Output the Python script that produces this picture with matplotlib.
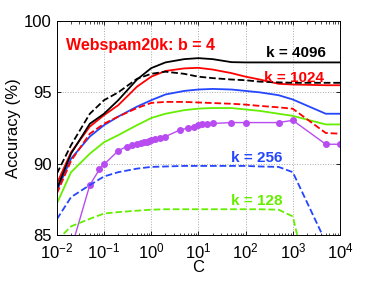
import matplotlib
matplotlib.use("Agg")
import matplotlib.pyplot as plt
from matplotlib.ticker import LogLocator, FixedLocator

plt.rcParams["font.family"] = ["Liberation Sans", "DejaVu Sans"]
plt.rcParams["mathtext.fontset"] = "custom"
plt.rcParams["mathtext.rm"] = "Liberation Sans"
plt.rcParams["mathtext.it"] = "Liberation Sans:italic"

# C grid shared by the smooth curves
C = [0.01, 0.02, 0.05, 0.1, 0.2, 0.5, 1, 2, 5, 10, 20, 50, 100, 200, 500, 1000, 5000, 10000]

k4096_solid = [88.24, 90.7, 92.8, 93.5, 94.45, 95.9, 96.7, 97.1, 97.33, 97.4, 97.33, 97.12, 97.1, 97.1, 97.1, 97.1, 97.1, 97.1]
k4096_dash = [89.3, 91.3, 93.5, 94.45, 95.0, 95.95, 96.3, 96.45, 96.3, 96.1, 96.0, 95.9, 95.85, 95.75, 95.7, 95.67, 95.67, 95.67]
k1024_solid = [88.6, 90.8, 92.6, 93.4, 94.1, 95.4, 96.1, 96.5, 96.68, 96.72, 96.6, 96.35, 96.1, 95.9, 95.6, 95.55, 95.5, 95.5]
k1024_dash = [87.9, 90.2, 92.1, 92.8, 93.3, 93.9, 94.26, 94.33, 94.33, 94.29, 94.25, 94.2, 94.14, 94.05, 93.95, 93.85, 92.15, 92.1]
k256_solid = [88.1, 90.35, 91.9, 92.7, 93.3, 94.0, 94.45, 94.85, 95.1, 95.2, 95.24, 95.2, 95.1, 95.0, 94.8, 94.5, 93.5, 93.5]
k256_dash = [86.1, 87.65, 88.5, 89.1, 89.4, 89.65, 89.77, 89.8, 89.84, 89.84, 89.84, 89.84, 89.84, 89.8, 89.77, 89.4, 84.5, 82.0]
k128_solid = [87.2, 89.4, 90.7, 91.5, 92.0, 92.7, 93.2, 93.5, 93.75, 93.86, 93.9, 93.9, 93.8, 93.7, 93.5, 93.35, 92.75, 92.75]
k128_dash = [84.6, 85.6, 86.13, 86.5, 86.6, 86.7, 86.77, 86.8, 86.8, 86.8, 86.8, 86.8, 86.8, 86.8, 86.77, 86.3, 76.5, 74.0]

# original data (purple, with markers)
C_orig = [0.01, 0.02, 0.05, 0.08, 0.1, 0.2, 0.3, 0.4, 0.5, 0.6, 0.7, 0.8, 0.9, 1, 1.2, 1.5, 2,
          4, 6, 8, 10, 12, 15, 20, 50, 100, 500, 1000, 5000, 10000]
acc_orig = [80.0, 84.0, 88.5, 89.6, 89.95, 90.9, 91.2, 91.3, 91.4, 91.45, 91.5, 91.55, 91.6, 91.65, 91.7, 91.8, 91.9,
            92.35, 92.5, 92.6, 92.7, 92.75, 92.8, 92.82, 92.88, 92.88, 92.88, 93.04, 91.36, 91.36]

BLACK = "black"
RED = "#ff0000"
BLUE = "#2446ff"
GREEN = "#66ee00"
PURPLE = "#b84cf0"

fig = plt.figure(figsize=(3.74, 2.81), dpi=100)
ax = fig.add_axes([0.152, 0.164, 0.757, 0.761])

lw = 1.3
ax.plot(C_orig, acc_orig, color=PURPLE, lw=1.0, marker="o", ms=4, mec=PURPLE, mfc=PURPLE)
ax.plot(C, k128_dash, "--", color=GREEN, lw=lw)
ax.plot(C, k256_dash, "--", color=BLUE, lw=lw)
ax.plot(C, k128_solid, "-", color=GREEN, lw=lw)
ax.plot(C, k256_solid, "-", color=BLUE, lw=lw)
ax.plot(C, k1024_dash, "--", color=RED, lw=lw)
ax.plot(C, k1024_solid, "-", color=RED, lw=lw)
ax.plot(C, k4096_dash, "--", color=BLACK, lw=lw)
ax.plot(C, k4096_solid, "-", color=BLACK, lw=lw)

ax.set_xscale("log")
ax.set_xlim(1e-2, 1e4)
ax.set_ylim(85, 100)
ax.xaxis.set_major_locator(LogLocator(base=10, numticks=10))
ax.xaxis.set_minor_locator(LogLocator(base=10, subs=range(2, 10), numticks=20))
ax.yaxis.set_major_locator(FixedLocator([85, 90, 95, 100]))
ax.yaxis.set_minor_locator(FixedLocator([]))

ax.grid(True, which="major", linestyle=":", color="#aaaaaa", lw=0.7)
ax.tick_params(which="both", direction="in", top=True, right=True, labelsize=12)
ax.tick_params(which="major", length=3, width=0.6)
ax.tick_params(which="minor", length=1.8, width=0.5)
ax.tick_params(axis="x", pad=5)
for s in ax.spines.values():
    s.set_linewidth(0.7)

ax.set_xlabel("C", fontsize=12, labelpad=-1)
ax.set_ylabel("Accuracy (%)", fontsize=12, labelpad=2)

ax.text(0.032, 0.865, "Webspam20k: b = 4", transform=ax.transAxes, color=RED,
        fontsize=11.5, fontweight="bold")
ax.text(0.74, 0.83, "k = 4096", transform=ax.transAxes, color=BLACK,
        fontsize=11, fontweight="bold")
ax.text(0.73, 0.715, "k = 1024", transform=ax.transAxes, color=RED,
        fontsize=11, fontweight="bold")
ax.text(0.615, 0.341, "k = 256", transform=ax.transAxes, color=BLUE,
        fontsize=11, fontweight="bold")
ax.text(0.615, 0.14, "k = 128", transform=ax.transAxes, color=GREEN,
        fontsize=11, fontweight="bold")

fig.savefig("out.png", dpi=100)
